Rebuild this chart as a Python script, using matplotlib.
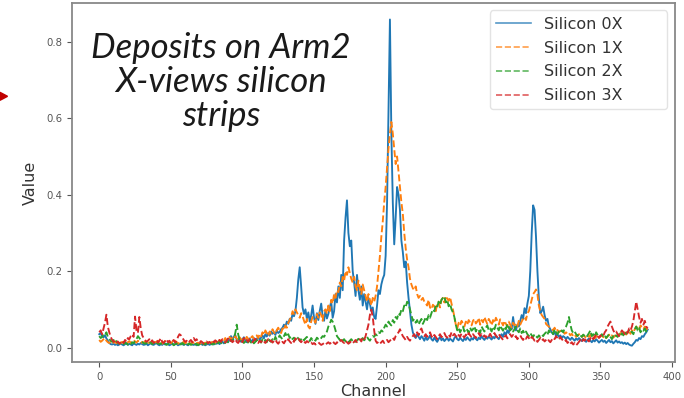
import numpy as np
import matplotlib.pyplot as plt
from matplotlib.patches import Polygon

# energy deposits per strip (in units of 1e-3), channels 0..383
silicon_0x = [
    35, 38, 30, 27, 32, 24, 18, 12, 9, 8, 10, 7, 9, 6, 8, 11,
    8, 6, 9, 12, 7, 10, 8, 6, 11, 9, 7, 10, 8, 12, 9, 7,
    8, 10, 6, 9, 11, 8, 7, 10, 12, 8, 6, 9, 7, 11, 8, 10,
    9, 6, 8, 12, 7, 9, 10, 6, 8, 11, 9, 7, 10, 8, 6, 9,
    11, 8, 7, 10, 6, 9, 8, 12, 7, 9, 6, 8, 10, 7, 9, 11,
    8, 12, 10, 14, 9, 13, 16, 11, 15, 18, 14, 24, 30, 22, 28, 33,
    20, 18, 25, 15, 22, 27, 18, 14, 20, 24, 16, 19, 25, 17, 22, 28,
    20, 26, 32, 24, 35, 29, 38, 31, 42, 36, 40, 33, 45, 38, 41, 48,
    52, 60, 55, 68, 62, 75, 70, 88, 82, 95, 130, 178, 210, 160, 105, 88,
    100, 75, 92, 68, 84, 110, 78, 62, 90, 72, 96, 115, 82, 70, 98, 76,
    88, 105, 120, 78, 95, 140, 118, 160, 130, 190, 150, 280, 340, 385, 300, 265,
    280, 200, 170, 135, 190, 150, 125, 160, 110, 140, 120, 100, 130, 115, 95, 105,
    80, 75, 110, 150, 140, 165, 180, 190, 240, 380, 620, 858, 560, 380, 270, 340,
    420, 400, 360, 280, 250, 210, 225, 170, 130, 95, 60, 40, 30, 25, 35, 28,
    22, 30, 25, 18, 28, 20, 24, 32, 22, 18, 26, 20, 15, 22, 28, 19,
    24, 17, 21, 26, 18, 23, 20, 16, 25, 30, 22, 19, 26, 21, 17, 24,
    20, 27, 22, 18, 25, 21, 28, 23, 19, 26, 22, 30, 24, 20, 27, 23,
    29, 25, 21, 28, 24, 32, 26, 22, 30, 35, 28, 40, 33, 45, 38, 55,
    48, 80, 52, 45, 60, 55, 70, 85, 75, 103, 90, 115, 135, 200, 300, 372,
    360, 290, 200, 130, 90, 95, 107, 85, 70, 75, 55, 48, 40, 35, 42, 30,
    35, 28, 32, 25, 30, 27, 22, 28, 24, 20, 26, 22, 18, 24, 20, 25,
    21, 17, 23, 19, 15, 20, 24, 18, 14, 20, 16, 22, 18, 13, 17, 20,
    15, 18, 12, 16, 20, 14, 17, 11, 15, 19, 13, 16, 12, 14, 10, 13,
    9, 12, 8, 6, 5, 10, 14, 20, 18, 25, 22, 30, 28, 35, 40, 47,
]

silicon_1x = [
    20, 15, 18, 22, 25, 18, 14, 12, 15, 10, 13, 16, 11, 14, 9, 12,
    15, 11, 13, 10, 14, 17, 12, 15, 20, 16, 13, 18, 14, 11, 15, 12,
    16, 13, 10, 14, 12, 17, 11, 15, 13, 18, 12, 16, 10, 14, 17, 12,
    13, 16, 11, 15, 12, 18, 14, 10, 13, 16, 12, 15, 11, 14, 17, 12,
    10, 14, 12, 16, 11, 13, 9, 12, 15, 10, 13, 11, 14, 12, 16, 13,
    15, 12, 18, 14, 20, 16, 22, 17, 25, 19, 23, 28, 20, 26, 22, 30,
    24, 20, 27, 22, 18, 25, 21, 28, 23, 19, 26, 30, 22, 27, 32, 25,
    35, 29, 40, 33, 45, 38, 30, 42, 36, 48, 40, 35, 46, 52, 44, 38,
    50, 45, 58, 52, 65, 72, 80, 95, 88, 100, 92, 85, 78, 90, 82, 70,
    60, 75, 55, 50, 68, 80, 72, 65, 88, 78, 92, 85, 70, 95, 100, 88,
    110, 95, 125, 115, 140, 130, 150, 145, 170, 160, 185, 175, 200, 190, 210, 195,
    180, 170, 185, 160, 150, 175, 155, 140, 165, 150, 135, 120, 140, 125, 110, 130,
    120, 135, 160, 200, 240, 290, 330, 380, 420, 470, 520, 560, 590, 560, 520, 480,
    500, 460, 420, 380, 350, 300, 260, 230, 210, 180, 165, 155, 150, 160, 140, 130,
    135, 125, 130, 120, 115, 110, 125, 105, 100, 112, 108, 95, 115, 120, 105, 125,
    130, 118, 135, 128, 122, 132, 115, 100, 80, 60, 50, 65, 58, 70, 62, 55,
    68, 60, 72, 65, 58, 70, 75, 63, 68, 78, 60, 72, 66, 80, 70, 62,
    75, 68, 58, 72, 64, 78, 70, 60, 74, 66, 58, 70, 62, 55, 68, 60,
    52, 65, 58, 62, 55, 70, 60, 68, 75, 80, 72, 90, 95, 110, 125, 140,
    145, 152, 140, 110, 95, 85, 80, 75, 62, 58, 55, 50, 48, 45, 52, 42,
    46, 40, 44, 38, 42, 36, 40, 35, 38, 32, 36, 30, 34, 28, 32, 35,
    30, 27, 33, 29, 25, 31, 28, 34, 26, 30, 24, 28, 32, 26, 29, 33,
    27, 31, 25, 29, 34, 28, 32, 26, 30, 35, 29, 33, 38, 31, 36, 40,
    34, 38, 42, 36, 45, 40, 48, 55, 50, 45, 58, 52, 48, 55, 50, 45,
]

silicon_2x = [
    30, 25, 28, 35, 32, 40, 28, 22, 18, 15, 20, 14, 17, 12, 10, 14,
    11, 9, 13, 10, 8, 12, 9, 14, 11, 18, 22, 30, 25, 20, 15, 12,
    10, 13, 8, 11, 14, 9, 12, 7, 10, 13, 9, 11, 8, 12, 10, 7,
    9, 12, 8, 10, 6, 9, 11, 7, 10, 8, 12, 9, 6, 10, 8, 11,
    7, 9, 12, 8, 10, 6, 9, 11, 7, 10, 8, 12, 9, 13, 10, 8,
    12, 9, 14, 11, 16, 13, 10, 15, 12, 18, 14, 11, 20, 16, 25, 38,
    60, 35, 20, 15, 18, 12, 16, 10, 14, 19, 13, 17, 11, 15, 20, 14,
    18, 13, 22, 16, 20, 14, 25, 18, 15, 22, 17, 28, 20, 24, 32, 26,
    22, 30, 38, 28, 35, 25, 30, 22, 26, 20, 28, 24, 18, 22, 26, 19,
    24, 28, 21, 17, 25, 20, 23, 18, 26, 22, 20, 25, 30, 28, 35, 42,
    55, 62, 73, 68, 58, 45, 30, 25, 20, 24, 18, 22, 16, 20, 14, 18,
    22, 17, 20, 15, 19, 23, 17, 21, 25, 19, 23, 28, 22, 18, 25, 30,
    28, 35, 32, 40, 38, 45, 42, 52, 60, 55, 68, 62, 58, 72, 65, 80,
    75, 90, 85, 100, 95, 110, 105, 120, 115, 100, 85, 70, 75, 65, 72, 60,
    68, 75, 62, 70, 80, 72, 85, 78, 90, 100, 95, 110, 105, 120, 112, 125,
    130, 134, 118, 125, 108, 115, 100, 92, 80, 60, 45, 52, 40, 48, 55, 42,
    50, 46, 38, 52, 44, 48, 56, 42, 50, 45, 38, 55, 48, 42, 52, 58,
    45, 50, 42, 55, 48, 60, 52, 45, 58, 50, 44, 55, 48, 62, 52, 45,
    50, 42, 48, 55, 45, 40, 50, 38, 44, 36, 42, 35, 30, 38, 32, 28,
    35, 30, 26, 32, 28, 34, 30, 36, 40, 33, 45, 38, 42, 35, 48, 40,
    35, 42, 38, 45, 40, 50, 55, 65, 80, 60, 45, 38, 42, 35, 30, 36,
    32, 28, 34, 30, 26, 32, 38, 45, 30, 35, 28, 40, 33, 26, 30, 35,
    28, 32, 25, 30, 35, 28, 22, 30, 26, 32, 28, 35, 30, 38, 32, 42,
    36, 40, 45, 38, 42, 35, 48, 55, 45, 52, 40, 48, 44, 50, 42, 48,
]

silicon_3x = [
    40, 45, 35, 50, 65, 86, 55, 40, 28, 20, 15, 18, 12, 16, 10, 14,
    18, 12, 20, 15, 25, 22, 30, 35, 28, 81, 45, 38, 80, 50, 32, 25,
    20, 15, 18, 22, 14, 19, 12, 16, 20, 13, 18, 25, 15, 12, 17, 22,
    14, 18, 11, 16, 20, 13, 17, 28, 35, 32, 26, 20, 15, 18, 12, 16,
    20, 14, 25, 18, 22, 15, 12, 17, 14, 10, 13, 16, 11, 15, 12, 18,
    14, 19, 16, 12, 20, 15, 22, 17, 13, 18, 24, 16, 20, 14, 18, 22,
    15, 12, 18, 21, 14, 25, 17, 20, 15, 22, 18, 14, 19, 23, 16, 12,
    18, 14, 20, 16, 12, 17, 22, 15, 19, 13, 17, 21, 14, 10, 16, 12,
    15, 11, 18, 14, 22, 16, 12, 19, 15, 24, 20, 25, 18, 14, 20, 16,
    12, 17, 14, 10, 13, 9, 12, 8, 11, 14, 10, 7, 9, 12, 8, 11,
    14, 10, 13, 17, 12, 9, 14, 11, 16, 20, 15, 12, 18, 14, 10, 13,
    17, 12, 15, 20, 14, 18, 22, 16, 25, 20, 30, 45, 60, 85, 99, 80,
    45, 18, 12, 15, 10, 14, 18, 12, 16, 20, 14, 18, 22, 26, 20, 30,
    35, 40, 48, 38, 30, 25, 20, 28, 22, 18, 25, 30, 35, 28, 40, 32,
    45, 50, 38, 30, 35, 28, 32, 40, 30, 25, 33, 28, 22, 30, 35, 27,
    32, 38, 30, 26, 34, 28, 40, 32, 36, 30, 25, 33, 28, 37, 31, 26,
    34, 29, 38, 32, 27, 35, 30, 25, 33, 38, 30, 35, 28, 32, 26, 34,
    30, 36, 28, 33, 38, 31, 27, 35, 30, 25, 20, 28, 32, 24, 30, 35,
    28, 33, 26, 30, 22, 28, 32, 25, 20, 27, 23, 30, 25, 20, 28, 24,
    18, 22, 15, 20, 25, 18, 22, 16, 20, 24, 18, 14, 20, 26, 22, 30,
    25, 20, 28, 22, 18, 15, 20, 12, 16, 10, 14, 8, 12, 6, 10, 15,
    20, 14, 22, 18, 25, 20, 16, 24, 30, 22, 28, 35, 30, 25, 32, 28,
    30, 40, 45, 55, 62, 68, 55, 45, 38, 42, 35, 30, 38, 45, 40, 35,
    42, 38, 50, 45, 55, 70, 95, 120, 100, 80, 65, 75, 60, 70, 55, 50,
]

labels = ['Silicon 0X', 'Silicon 1X', 'Silicon 2X', 'Silicon 3X']
channels = np.arange(384)

fig = plt.figure(figsize=(6.84, 3.98), dpi=100)
ax = fig.add_axes([0.105, 0.0905, 0.882, 0.9015])

series = [silicon_0x, silicon_1x, silicon_2x, silicon_3x]
styles = ['-', '--', '--', '--']
colors = ['tab:blue', 'tab:orange', 'tab:green', 'tab:red']
for vals, ls, c, lab in zip(series, styles, colors, labels):
    ax.plot(channels, np.array(vals) / 1000.0, ls, color=c, lw=1.35, label=lab)

ax.set_xticks([0, 50, 100, 150, 200, 250, 300, 350, 400])
ax.set_yticks([0.0, 0.2, 0.4, 0.6, 0.8])
ax.tick_params(labelsize=7.3, colors='#555555', length=3.5, width=0.8)
ax.set_xlabel('Channel', fontsize=11.5, color='#333333', labelpad=2)
ax.set_ylabel('Value', fontsize=11.5, color='#333333', labelpad=6)
for s in ax.spines.values():
    s.set_color('#888888')
    s.set_linewidth(1.3)

leg = ax.legend(loc='upper left', bbox_to_anchor=(0.693, 0.702, 0.294, 0.278),
                mode='expand', borderaxespad=0, fontsize=11.5,
                handlelength=2.2, labelspacing=0.55)
leg.get_frame().set_edgecolor('#dddddd')
for t in leg.get_texts():
    t.set_color('#333333')
for h in leg.get_lines():
    h.set_alpha(0.75)
    h.set_linewidth(1.2)

# slide caption laid over the plot
fig.text(0.323, 0.795, 'Deposits on Arm2\nX-views silicon\nstrips',
         ha='center', va='center', fontsize=25, family='Lato',
         style='italic', weight='normal', linespacing=1.08, color='#1a1a1a')

# small red pointer on the left edge
fig.patches.append(Polygon([[0.0, 0.748], [0.011, 0.758], [0.0, 0.768]],
                           closed=True, color='#c00000',
                           transform=fig.transFigure, figure=fig))

fig.savefig('out.png', dpi=100, facecolor='white')
